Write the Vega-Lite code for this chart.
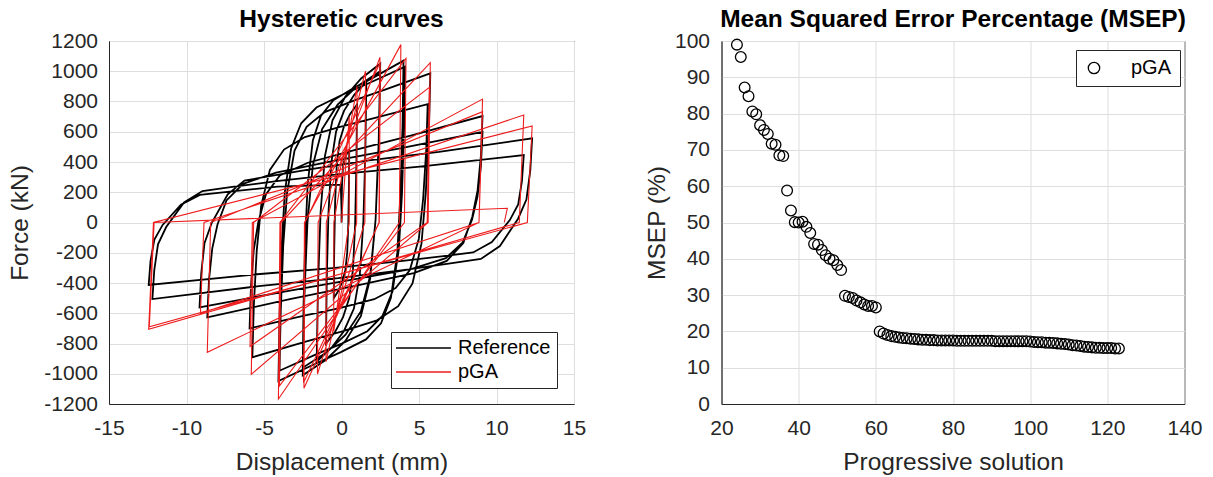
{
  "$schema": "https://vega.github.io/schema/vega-lite/v6.json",
  "background": "white",
  "padding": {"left": 7, "top": 6, "right": 5, "bottom": 5},
  "bounds": "flush",
  "spacing": 147.5,
  "datasets": {
    "ref": [
      {"x":0,"y":0},{"x":0.01,"y":120},{"x":0.03,"y":240},{"x":0.07,"y":331},{"x":0.13,"y":389},{"x":0.23,"y":427},{"x":0.35,"y":456},{"x":0.5,"y":480},
      {"x":0.48,"y":235},{"x":0.44,"y":-10},{"x":0.37,"y":-196},{"x":0.25,"y":-314},{"x":0.05,"y":-392},{"x":-0.2,"y":-451},{"x":-0.5,"y":-500},
      {"x":-0.47,"y":-180},{"x":-0.41,"y":140},{"x":-0.305,"y":383},{"x":-0.125,"y":537},{"x":0.175,"y":639},{"x":0.55,"y":716},{"x":1.0,"y":780},
      {"x":0.96,"y":385},{"x":0.88,"y":-10},{"x":0.74,"y":-310},{"x":0.5,"y":-500},{"x":0.1,"y":-626},{"x":-0.4,"y":-721},{"x":-1.0,"y":-800},
      {"x":-0.95,"y":-367},{"x":-0.84,"y":65},{"x":-0.66,"y":394},{"x":-0.35,"y":601},{"x":0.17,"y":740},{"x":0.82,"y":844},{"x":1.6,"y":930},
      {"x":1.54,"y":467},{"x":1.41,"y":5},{"x":1.18,"y":-347},{"x":0.8,"y":-569},{"x":0.16,"y":-717},{"x":-0.64,"y":-828},{"x":-1.6,"y":-920},
      {"x":-1.52,"y":-427},{"x":-1.35,"y":65},{"x":-1.07,"y":439},{"x":-0.58,"y":676},{"x":0.25,"y":833},{"x":1.27,"y":952},{"x":2.5,"y":1050},
      {"x":2.4,"y":535},{"x":2.2,"y":20},{"x":1.85,"y":-371},{"x":1.25,"y":-619},{"x":0.25,"y":-783},{"x":-1.0,"y":-907},{"x":-2.5,"y":-1010},
      {"x":-2.4,"y":-507},{"x":-2.2,"y":-5},{"x":-1.85,"y":377},{"x":-1.25,"y":618},{"x":-0.25,"y":779},{"x":1.0,"y":900},{"x":2.5,"y":1000},
      {"x":2.4,"y":510},{"x":2.2,"y":20},{"x":1.85,"y":-352},{"x":1.25,"y":-588},{"x":0.25,"y":-744},{"x":-1.0,"y":-862},{"x":-2.5,"y":-960},
      {"x":-2.45,"y":-554},{"x":-2.34,"y":-107},{"x":-2.18,"y":258},{"x":-1.85,"y":542},{"x":-1.33,"y":705},{"x":-0.55,"y":806},{"x":0.75,"y":887},{"x":2.05,"y":958},{"x":4.0,"y":1070},
      {"x":3.94,"y":646},{"x":3.8,"y":180},{"x":3.6,"y":-201},{"x":3.19,"y":-497},{"x":2.55,"y":-667},{"x":1.58,"y":-773},{"x":-0.04,"y":-857},{"x":-1.65,"y":-932},{"x":-4.07,"y":-1048},
      {"x":-4.0,"y":-632},{"x":-3.87,"y":-175},{"x":-3.66,"y":199},{"x":-3.25,"y":490},{"x":-2.6,"y":656},{"x":-1.62,"y":760},{"x":0.02,"y":843},{"x":1.65,"y":916},{"x":4.1,"y":1030},
      {"x":4.04,"y":628},{"x":3.9,"y":186},{"x":3.7,"y":-176},{"x":3.29,"y":-457},{"x":2.64,"y":-618},{"x":1.67,"y":-719},{"x":0.05,"y":-799},{"x":-1.57,"y":-869},{"x":-4.0,"y":-980},
      {"x":-3.92,"y":-587},{"x":-3.76,"y":-154},{"x":-3.51,"y":200},{"x":-3.03,"y":475},{"x":-2.25,"y":632},{"x":-1.08,"y":730},{"x":0.87,"y":809},{"x":2.81,"y":878},{"x":5.73,"y":986},
      {"x":5.64,"y":611},{"x":5.44,"y":198},{"x":5.16,"y":-140},{"x":4.58,"y":-403},{"x":3.66,"y":-553},{"x":2.29,"y":-647},{"x":-0.01,"y":-722},{"x":-2.31,"y":-788},{"x":-5.75,"y":-891},
      {"x":-5.66,"y":-556},{"x":-5.47,"y":-188},{"x":-5.18,"y":113},{"x":-4.62,"y":348},{"x":-3.71,"y":482},{"x":-2.36,"y":565},{"x":-0.1,"y":632},{"x":2.17,"y":691},{"x":5.56,"y":783},
      {"x":5.47,"y":486},{"x":5.27,"y":160},{"x":4.99,"y":-107},{"x":4.41,"y":-314},{"x":3.49,"y":-433},{"x":2.11,"y":-507},{"x":-0.19,"y":-567},{"x":-2.48,"y":-618},{"x":-5.93,"y":-700},
      {"x":-5.84,"y":-419},{"x":-5.66,"y":-181},{"x":-5.37,"y":2},{"x":-4.88,"y":185},{"x":-3.98,"y":311},{"x":-2.17,"y":395},{"x":0.83,"y":479},{"x":4.59,"y":578},{"x":9.1,"y":704},
      {"x":8.99,"y":438},{"x":8.78,"y":212},{"x":8.44,"y":38},{"x":7.86,"y":-135},{"x":6.79,"y":-254},{"x":4.66,"y":-334},{"x":1.11,"y":-414},{"x":-3.33,"y":-507},{"x":-8.66,"y":-627},
      {"x":-8.55,"y":-382},{"x":-8.34,"y":-173},{"x":-8.0,"y":-13},{"x":-7.42,"y":146},{"x":-6.35,"y":256},{"x":-4.22,"y":330},{"x":-0.67,"y":404},{"x":3.77,"y":490},{"x":9.1,"y":600},
      {"x":8.99,"y":368},{"x":8.77,"y":170},{"x":8.42,"y":19},{"x":7.82,"y":-131},{"x":6.73,"y":-236},{"x":4.54,"y":-306},{"x":0.88,"y":-375},{"x":-3.68,"y":-457},{"x":-9.16,"y":-561},
      {"x":-9.05,"y":-338},{"x":-8.84,"y":-137},{"x":-8.37,"y":-2},{"x":-7.34,"y":187},{"x":-6.26,"y":277},{"x":-4.44,"y":310},{"x":-1.86,"y":355},{"x":1.78,"y":411},{"x":6.29,"y":467},{"x":12.3,"y":556},
      {"x":12.18,"y":344},{"x":11.93,"y":152},{"x":11.39,"y":25},{"x":10.22,"y":-156},{"x":8.99,"y":-241},{"x":6.91,"y":-272},{"x":3.97,"y":-315},{"x":-0.2,"y":-368},{"x":-5.34,"y":-421},{"x":-12.2,"y":-506},
      {"x":-12.08,"y":-316},{"x":-11.84,"y":-144},{"x":-11.31,"y":-30},{"x":-10.16,"y":132},{"x":-8.97,"y":208},{"x":-6.93,"y":237},{"x":-4.05,"y":275},{"x":0.02,"y":322},{"x":5.05,"y":370},{"x":11.76,"y":446},
      {"x":11.64,"y":274},{"x":11.4,"y":120},{"x":10.86,"y":16},{"x":9.7,"y":-130},{"x":8.49,"y":-198},{"x":6.44,"y":-224},{"x":3.53,"y":-258},{"x":-0.58,"y":-301},{"x":-5.66,"y":-344},{"x":-12.44,"y":-413},
      {"x":-12.32,"y":-254},{"x":-12.07,"y":-112},{"x":-11.54,"y":-16},{"x":-10.36,"y":118},{"x":-9.14,"y":182},{"x":-7.06,"y":206},{"x":-4.13,"y":237},{"x":-0.05,"y":250},{"x":0.02,"y":30}
    ],
    "pga": [
      {"x":0,"y":0},{"x":0.5,"y":700},{"x":0.49,"y":0},{"x":-0.5,"y":-720},{"x":-0.49,"y":0},
      {"x":1.0,"y":900},{"x":0.98,"y":0},{"x":-1.0,"y":-920},{"x":-0.98,"y":0},
      {"x":1.55,"y":1000},{"x":1.51,"y":0},{"x":-1.55,"y":-1002},{"x":-1.51,"y":0},
      {"x":2.48,"y":1092},{"x":2.42,"y":0},{"x":-2.42,"y":-1096},{"x":-2.36,"y":0},
      {"x":2.5,"y":1060},{"x":2.44,"y":0},{"x":-2.45,"y":-1060},{"x":-2.39,"y":0},
      {"x":3.83,"y":1176},{"x":3.73,"y":0},{"x":-4.07,"y":-1167},{"x":-3.97,"y":0},
      {"x":4.16,"y":1085},{"x":4.06,"y":0},{"x":-4.0,"y":-1080},{"x":-3.9,"y":0},
      {"x":5.73,"y":1057},{"x":5.59,"y":0},{"x":-5.82,"y":-1004},{"x":-5.67,"y":0},
      {"x":5.67,"y":894},{"x":5.53,"y":0},{"x":-5.9,"y":-820},{"x":-5.75,"y":0},
      {"x":9.1,"y":816},{"x":8.87,"y":0},{"x":-8.66,"y":-858},{"x":-8.44,"y":0},
      {"x":9.1,"y":733},{"x":8.87,"y":0},{"x":-9.1,"y":-600},{"x":-8.87,"y":0},
      {"x":11.76,"y":711},{"x":11.47,"y":0},{"x":-12.44,"y":-706},{"x":-12.13,"y":0},
      {"x":12.3,"y":638},{"x":11.99,"y":0},{"x":-12.4,"y":-690},{"x":-12.09,"y":0},
      {"x":10.7,"y":94},{"x":10.5,"y":0}
    ],
    "msep": [
      {"n":24,"e":99.0},{"n":25,"e":95.6},{"n":26,"e":87.2},{"n":27,"e":84.8},{"n":28,"e":80.6},{"n":29,"e":79.8},{"n":30,"e":76.8},{"n":31,"e":75.5},{"n":32,"e":74.4},{"n":33,"e":71.7},
      {"n":34,"e":71.4},{"n":35,"e":68.5},{"n":36,"e":68.3},{"n":37,"e":58.8},{"n":38,"e":53.3},{"n":39,"e":50.1},{"n":40,"e":50.0},{"n":41,"e":50.2},{"n":42,"e":48.8},{"n":43,"e":47.1},
      {"n":44,"e":44.1},{"n":45,"e":43.9},{"n":46,"e":42.4},{"n":47,"e":41.0},{"n":48,"e":40.0},{"n":49,"e":39.6},{"n":50,"e":38.3},{"n":51,"e":36.9},{"n":52,"e":29.8},{"n":53,"e":29.5},
      {"n":54,"e":29.2},{"n":55,"e":28.5},{"n":56,"e":28.0},{"n":57,"e":27.4},{"n":58,"e":27.0},{"n":59,"e":27.0},{"n":60,"e":26.6},{"n":61,"e":20.0},{"n":62,"e":19.4},{"n":63,"e":19.0},
      {"n":64,"e":18.7},{"n":65,"e":18.5},{"n":66,"e":18.3},{"n":67,"e":18.2},{"n":68,"e":18.1},{"n":69,"e":18.0},{"n":70,"e":17.9},{"n":71,"e":17.8},{"n":72,"e":17.7},{"n":73,"e":17.7},
      {"n":74,"e":17.6},{"n":75,"e":17.6},{"n":76,"e":17.5},{"n":77,"e":17.5},{"n":78,"e":17.5},{"n":79,"e":17.5},{"n":80,"e":17.5},{"n":81,"e":17.4},{"n":82,"e":17.4},{"n":83,"e":17.4},
      {"n":84,"e":17.4},{"n":85,"e":17.4},{"n":86,"e":17.4},{"n":87,"e":17.4},{"n":88,"e":17.4},{"n":89,"e":17.4},{"n":90,"e":17.4},{"n":91,"e":17.3},{"n":92,"e":17.3},{"n":93,"e":17.3},
      {"n":94,"e":17.3},{"n":95,"e":17.3},{"n":96,"e":17.3},{"n":97,"e":17.3},{"n":98,"e":17.3},{"n":99,"e":17.3},{"n":100,"e":17.2},{"n":101,"e":17.1},{"n":102,"e":17.0},{"n":103,"e":17.0},
      {"n":104,"e":16.9},{"n":105,"e":16.9},{"n":106,"e":16.8},{"n":107,"e":16.7},{"n":108,"e":16.6},{"n":109,"e":16.5},{"n":110,"e":16.4},{"n":111,"e":16.2},{"n":112,"e":16.1},{"n":113,"e":16.0},
      {"n":114,"e":15.8},{"n":115,"e":15.7},{"n":116,"e":15.6},{"n":117,"e":15.5},{"n":118,"e":15.5},{"n":119,"e":15.4},{"n":120,"e":15.4},{"n":121,"e":15.4},{"n":122,"e":15.3},{"n":123,"e":15.3}
    ]
  },
  "hconcat": [
    {
      "width": 465,
      "height": 363,
      "title": {"text": "Hysteretic curves"},
      "encoding": {
        "x": {"field": "x", "type": "quantitative", "scale": {"domain": [-15, 15], "nice": false, "zero": false},
              "axis": {"title": "Displacement (mm)", "values": [-15,-10,-5,0,5,10,15], "labelExpr": "'' + datum.value", "labelFlush": false, "labelPadding": 13, "titlePadding": 12}},
        "y": {"field": "y", "type": "quantitative", "scale": {"domain": [-1200, 1200], "nice": false, "zero": false},
              "axis": {"title": "Force (kN)", "values": [-1200,-1000,-800,-600,-400,-200,0,200,400,600,800,1000,1200], "labelExpr": "'' + datum.value", "labelPadding": 11.5, "titlePadding": 11}}
      },
      "layer": [
        {
          "data": {"name": "ref"},
          "mark": {"type": "line", "strokeWidth": 1.8, "clip": true},
          "encoding": {
            "color": {"datum": "Reference", "scale": {"domain": ["Reference", "pGA"], "range": ["#000000", "#ee1c1c"]},
                      "legend": {"orient": "none", "legendX": 282, "legendY": 291, "title": null, "strokeColor": "#262626", "fillColor": "white",
                                 "padding": 6, "labelFontSize": 20, "labelColor": "#000000", "symbolType": "M-2,0H8", "symbolSize": 121,
                                 "symbolStrokeWidth": 1.6, "labelOffset": 41, "rowPadding": 4}},
            "order": {"value": null}
          }
        },
        {
          "data": {"name": "pga"},
          "mark": {"type": "line", "strokeWidth": 1.1, "clip": true},
          "encoding": {
            "color": {"datum": "pGA"},
            "order": {"value": null}
          }
        }
      ]
    },
    {
      "width": 463,
      "height": 363,
      "title": {"text": "Mean Squared Error Percentage (MSEP)"},
      "data": {"name": "msep"},
      "mark": {"type": "point", "filled": false, "size": 115, "strokeWidth": 1.3, "color": "#000000", "opacity": 1},
      "encoding": {
        "x": {"field": "n", "type": "quantitative", "scale": {"domain": [20, 140], "nice": false, "zero": false},
              "axis": {"title": "Progressive solution", "values": [20,40,60,80,100,120,140], "labelFlush": false, "labelPadding": 13, "titlePadding": 12}},
        "y": {"field": "e", "type": "quantitative", "scale": {"domain": [0, 100], "nice": false},
              "axis": {"title": "MSEP (%)", "values": [0,10,20,30,40,50,60,70,80,90,100], "labelPadding": 12, "titlePadding": 5}},
        "shape": {"datum": "pGA", "scale": {"range": ["circle"]},
                  "legend": {"orient": "none", "legendX": 967, "legendY": 9, "title": null, "strokeColor": "#262626", "fillColor": "white",
                             "padding": 8, "labelFontSize": 20, "labelColor": "#000000", "symbolSize": 130, "symbolStrokeColor": "#000000",
                             "symbolFillColor": "transparent", "symbolStrokeWidth": 1.3, "labelOffset": 27}}
      }
    }
  ],
  "config": {
    "font": "Liberation Sans",
    "view": {"stroke": "#262626", "strokeWidth": 1},
    "axis": {
      "gridColor": "#dedede", "gridWidth": 1, "domainColor": "#262626", "ticks": false,
      "labelFont": "Liberation Sans", "labelFontSize": 21, "labelColor": "#262626",
      "titleFont": "Liberation Sans", "titleFontSize": 24.5, "titleFontWeight": "normal", "titleColor": "#262626"
    },
    "legend": {"labelFont": "Liberation Sans"},
    "title": {"font": "Liberation Sans", "fontSize": 24.5, "fontWeight": "bold", "color": "#000000", "offset": -2}
  }
}
